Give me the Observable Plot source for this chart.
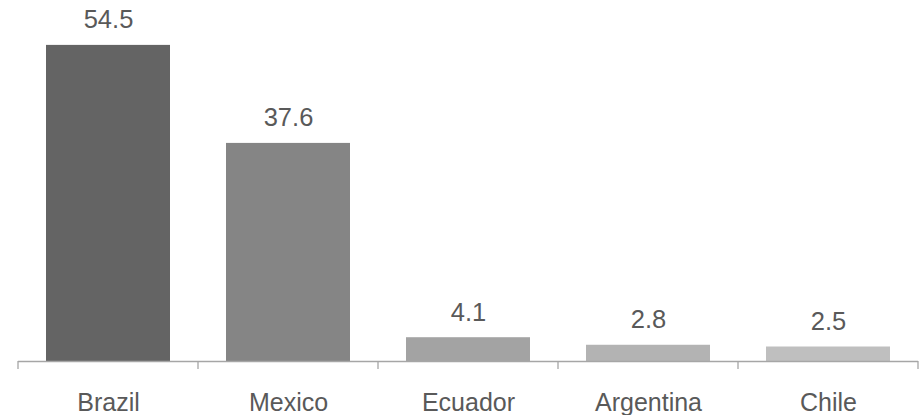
<!DOCTYPE html>
<html>
<head>
<meta charset="utf-8">
<script src="https://cdn.jsdelivr.net/npm/d3@7"></script>
<script src="https://cdn.jsdelivr.net/npm/@observablehq/plot@0.6"></script>
<style>
  html, body { margin: 0; padding: 0; background: #fff; }
  svg { display: block; }
</style>
</head>
<body>
<div id="chart"></div>
<script>
const countries = ["Brazil", "Mexico", "Ecuador", "Argentina", "Chile"];
const values = [54.5, 37.6, 4.1, 2.8, 2.5];
const barColors = ["#646464", "#858585", "#a3a3a3", "#b3b3b3", "#bfbfbf"];

const data = countries.map((c, i) => ({country: c, value: values[i]}));

const chart = Plot.plot({
  width: 924,
  height: 415,
  marginTop: 0,
  marginLeft: 18,
  marginRight: 6,
  marginBottom: 54,
  style: {fontFamily: "'Liberation Sans', Arial, sans-serif", fontSize: "25px", color: "#595959", background: "#fff"},
  x: {domain: countries, paddingInner: 0.311, paddingOuter: 0.1555, label: null},
  y: {domain: [0, 62.24], axis: null},
  color: {domain: countries, range: barColors},
  marks: [
    Plot.barY(data, {x: "country", y: "value", fill: "country"}),
    Plot.ruleY([0], {stroke: "#a6a6a6", strokeWidth: 1.3}),
    Plot.text(data, {x: "country", y: "value", text: d => d.value.toFixed(1), lineAnchor: "bottom", dy: -17, fill: "#595959", fontSize: 25.5}),
    Plot.axisX({tickSize: 0, tickPadding: 32, fontSize: 25, fill: "#595959", label: null})
  ]
});

// boundary ticks (category separators) derived from the band scale
const xs = chart.scale("x");
const inner = xs.step - xs.bandwidth;
const y0 = chart.scale("y").apply(0);
const boundaries = countries.map(c => xs.apply(c) - inner / 2);
boundaries.push(xs.apply(countries[countries.length - 1]) + xs.bandwidth + inner / 2);
d3.select(chart).append("g")
  .attr("stroke", "#a6a6a6")
  .attr("stroke-width", 1.3)
  .selectAll("line")
  .data(boundaries)
  .join("line")
  .attr("x1", d => d).attr("x2", d => d)
  .attr("y1", y0).attr("y2", y0 + 8);

document.getElementById("chart").appendChild(chart);
</script>
</body>
</html>
